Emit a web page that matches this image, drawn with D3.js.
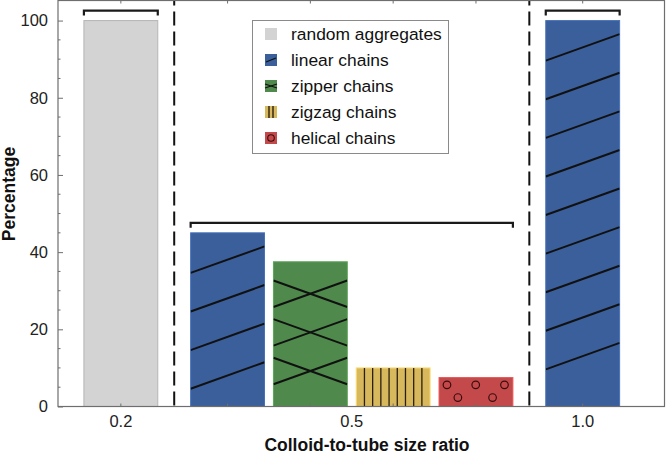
<!DOCTYPE html>
<html>
<head>
<meta charset="utf-8">
<script src="https://cdn.jsdelivr.net/npm/d3@7"></script>
<style>
  html, body { margin: 0; padding: 0; background: #fff; }
  svg { display: block; }
  text { font-family: "Liberation Sans", Arial, Helvetica, sans-serif; }
</style>
</head>
<body>
<svg id="chart" width="666" height="454"></svg>
<script>
// ---------------- data ----------------
const categories = ["0.2", "0.5", "1.0"];
const barGroups  = ["0.2", "0.5", "0.5", "0.5", "0.5", "1.0"];
const barTypes   = ["random aggregates", "linear chains", "zipper chains", "zigzag chains", "helical chains", "linear chains"];
const barValues  = [100, 45, 37.5, 10, 7.5, 100];
const legendLabels = ["random aggregates", "linear chains", "zipper chains", "zigzag chains", "helical chains"];
const legendColors = ["#d2d3d2", "#3b5f9b", "#4f8a4c", "#d8b85c", "#c4494a"];
const yTicks = [0, 20, 40, 60, 80, 100];
const yMinorTicks = d3.range(0, 105, 5);

// ---------------- layout ----------------
const svg = d3.select("#chart");
const plot = { left: 58, right: 664.5, top: 0.5, bottom: 406.5 };
const groupGap = 0.289;      // extra space between size-ratio groups (in bar steps)
const barFrac = 0.892;       // bar width as fraction of step

// slot position for each bar: index + group index * gap
const slots = barGroups.map((g, i) => i + categories.indexOf(g) * groupGap);

const x = d3.scaleLinear().domain([-0.759, 6.566]).range([plot.left, plot.right]);
const y = d3.scaleLinear().domain([0, 105.2]).range([plot.bottom, plot.top]);
const color = d3.scaleOrdinal().domain(legendLabels).range(legendColors);
const bw = x(barFrac) - x(0);

const bars = barValues.map((v, i) => ({
  value: v, type: barTypes[i], group: barGroups[i], slot: slots[i],
  x0: x(slots[i]) - bw / 2, x1: x(slots[i]) + bw / 2, top: y(v), bottom: y(0)
}));

// ---------------- defs (clip paths) ----------------
const defs = svg.append("defs");
bars.forEach((b, i) => {
  defs.append("clipPath").attr("id", "clip" + i)
    .append("rect").attr("x", b.x0).attr("y", b.top).attr("width", b.x1 - b.x0).attr("height", b.bottom - b.top);
});

// ---------------- bars ----------------
const strokeFor = t => t === "random aggregates" ? "#b4b5b4" : d3.color(color(t)).brighter(0.5);
svg.append("g").selectAll("rect").data(bars).join("rect")
  .attr("x", d => d.x0).attr("y", d => d.top)
  .attr("width", d => d.x1 - d.x0).attr("height", d => d.bottom - d.top)
  .attr("fill", d => color(d.type))
  .attr("stroke", d => strokeFor(d.type)).attr("stroke-width", 1);

// ---------------- hatch patterns ----------------
const hatchStep = y(0) - y(10);   // spacing between hatch lines
const rise = 26.5;                // vertical rise of a hatch line across the bar
const hatch = svg.append("g");
bars.forEach((b, i) => {
  const g = hatch.append("g").attr("clip-path", `url(#clip${i})`);
  const w = b.x1 - b.x0;
  if (b.type === "linear chains") {
    for (let yl = b.top + hatchStep + 1.5; yl < b.bottom; yl += hatchStep) {
      g.append("line").attr("x1", b.x0).attr("y1", yl).attr("x2", b.x1).attr("y2", yl - rise)
        .attr("stroke", "#111").attr("stroke-width", 2);
    }
  } else if (b.type === "zipper chains") {
    for (let yc = b.top + 32; yc + rise / 2 < b.bottom; yc += hatchStep) {
      g.append("line").attr("x1", b.x0).attr("y1", yc + rise / 2).attr("x2", b.x1).attr("y2", yc - rise / 2)
        .attr("stroke", "#111").attr("stroke-width", 2);
      g.append("line").attr("x1", b.x0).attr("y1", yc - rise / 2).attr("x2", b.x1).attr("y2", yc + rise / 2)
        .attr("stroke", "#111").attr("stroke-width", 2);
    }
  } else if (b.type === "zigzag chains") {
    for (let k = 1; k < 9; k++) {
      const xl = b.x0 + k * w / 9;
      g.append("line").attr("x1", xl).attr("y1", b.top).attr("x2", xl).attr("y2", b.bottom)
        .attr("stroke", "#2a1f10").attr("stroke-width", 1.3);
    }
  } else if (b.type === "helical chains") {
    const marks = [[8, 7.3], [37, 7.3], [66, 7.3], [19, 20], [54, 20]];
    marks.forEach(([dx, dy]) => {
      g.append("circle").attr("cx", b.x0 + dx * w / 74.5).attr("cy", b.top + dy).attr("r", 3.8)
        .attr("fill", "none").attr("stroke", "#3a0d0d").attr("stroke-width", 1.2);
    });
  }
});

// ---------------- group brackets ----------------
const brackets = categories.map(c => {
  const bs = bars.filter(b => b.group === c);
  return { x0: d3.min(bs, b => b.x0), x1: d3.max(bs, b => b.x1), top: d3.min(bs, b => b.top) };
});
svg.append("g").selectAll("path").data(brackets).join("path")
  .attr("d", d => `M${d.x0},${d.top - 5}V${d.top - 10}H${d.x1}V${d.top - 5}`)
  .attr("fill", "none").attr("stroke", "#1a1a1a").attr("stroke-width", 2.2);

// ---------------- dashed separators ----------------
const seps = [];
for (let k = 1; k < categories.length; k++) {
  const left = d3.max(bars.filter(b => b.group === categories[k - 1]), b => b.x1);
  const right = d3.min(bars.filter(b => b.group === categories[k]), b => b.x0);
  seps.push((left + right) / 2);
}
svg.append("g").selectAll("line").data(seps).join("line")
  .attr("x1", d => d).attr("x2", d => d)
  .attr("y1", plot.bottom - 1).attr("y2", plot.top)
  .attr("stroke", "#111").attr("stroke-width", 2).attr("stroke-dasharray", "14,6");

// ---------------- axes ----------------
const axisColor = "#6e6e6e";
const ax = svg.append("g");
// box
ax.append("rect").attr("x", plot.left).attr("y", plot.top)
  .attr("width", plot.right - plot.left).attr("height", plot.bottom - plot.top)
  .attr("fill", "none").attr("stroke", axisColor).attr("stroke-width", 1.2);

// y axis (ticks inside)
const yAxis = d3.axisLeft(y).tickValues(yTicks).tickSize(-5).tickPadding(10).tickFormat(d3.format("d"));
const gy = ax.append("g").attr("transform", `translate(${plot.left},0)`).call(yAxis);
gy.select(".domain").remove();
gy.selectAll(".tick line").attr("stroke", axisColor);
gy.selectAll("text").attr("font-size", 16.5).attr("fill", "#222").attr("font-family", "Liberation Sans, Arial, sans-serif");
ax.append("g").selectAll("line").data(yMinorTicks.filter(v => !yTicks.includes(v))).join("line")
  .attr("x1", plot.left).attr("x2", plot.left + 2.5).attr("y1", d => y(d)).attr("y2", d => y(d))
  .attr("stroke", axisColor);

// x ticks at bar centres (bottom & top, inside)
ax.append("g").selectAll("line").data(bars).join("line")
  .attr("x1", d => x(d.slot)).attr("x2", d => x(d.slot))
  .attr("y1", plot.bottom).attr("y2", plot.bottom - 3).attr("stroke", axisColor);
ax.append("g").selectAll("line").data(bars).join("line")
  .attr("x1", d => x(d.slot)).attr("x2", d => x(d.slot))
  .attr("y1", plot.top).attr("y2", plot.top + 3).attr("stroke", axisColor);

// category labels at group centres
ax.append("g").selectAll("text").data(categories).join("text")
  .attr("x", c => { const bs = bars.filter(b => b.group === c); return (x(d3.min(bs, b => b.slot)) + x(d3.max(bs, b => b.slot))) / 2; })
  .attr("y", 427).attr("text-anchor", "middle").attr("font-size", 16.5).attr("fill", "#222")
  .text(d => d);

// axis titles
svg.append("text").attr("x", 367).attr("y", 451).attr("text-anchor", "middle")
  .attr("font-size", 17.5).attr("font-weight", "bold").attr("fill", "#111")
  .text("Colloid-to-tube size ratio");
svg.append("text").attr("transform", "translate(14.5,194) rotate(-90)").attr("text-anchor", "middle")
  .attr("font-size", 17.5).attr("font-weight", "bold").attr("fill", "#111")
  .text("Percentage");

// ---------------- legend ----------------
const lg = svg.append("g");
lg.append("rect").attr("x", 252.5).attr("y", 20.5).attr("width", 196).attr("height", 133)
  .attr("fill", "#fff").attr("stroke", "#8a8a8a").attr("stroke-width", 1);
const rowY = i => 34 + i * 26;
const sw = 12;
legendLabels.forEach((lab, i) => {
  const sx = 265, sy = rowY(i) - sw / 2;
  const gi = lg.append("g");
  gi.append("rect").attr("x", sx).attr("y", sy).attr("width", sw).attr("height", sw).attr("fill", color(lab));
  if (lab === "linear chains") {
    gi.append("line").attr("x1", sx + 1).attr("y1", sy + 8).attr("x2", sx + sw - 1).attr("y2", sy + 4)
      .attr("stroke", "#111").attr("stroke-width", 1.3);
  } else if (lab === "zipper chains") {
    gi.append("line").attr("x1", sx).attr("y1", sy + 8).attr("x2", sx + sw).attr("y2", sy + 4).attr("stroke", "#111").attr("stroke-width", 1.2);
    gi.append("line").attr("x1", sx).attr("y1", sy + 4).attr("x2", sx + sw).attr("y2", sy + 8).attr("stroke", "#111").attr("stroke-width", 1.2);
  } else if (lab === "zigzag chains") {
    [4, 8].forEach(dx => gi.append("line").attr("x1", sx + dx).attr("x2", sx + dx).attr("y1", sy).attr("y2", sy + sw)
      .attr("stroke", "#2a1f10").attr("stroke-width", 1.4));
  } else if (lab === "helical chains") {
    gi.append("circle").attr("cx", sx + sw / 2).attr("cy", sy + sw / 2).attr("r", 3.3)
      .attr("fill", "none").attr("stroke", "#3a0d0d").attr("stroke-width", 1.1);
  }
  lg.append("text").attr("x", 291).attr("y", rowY(i) + 6).attr("font-size", 17.4).attr("fill", "#111").text(lab);
});
</script>
</body>
</html>
